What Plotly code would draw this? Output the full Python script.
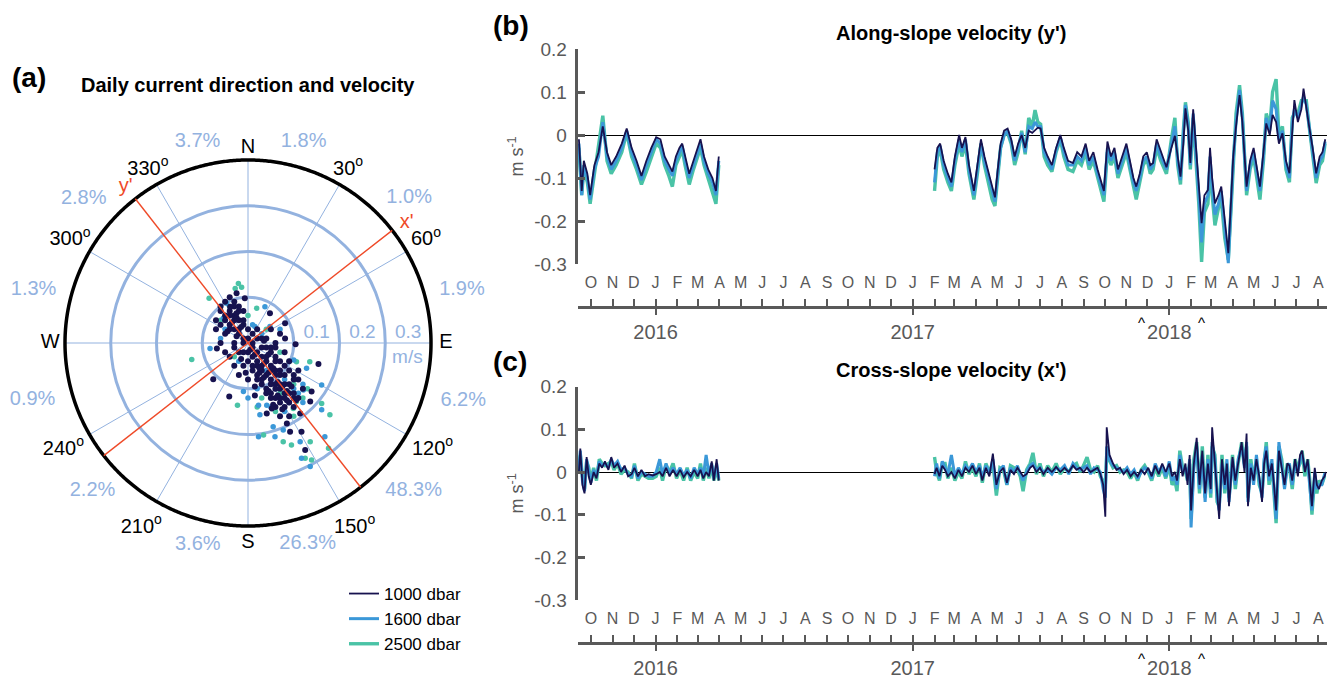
import numpy as np
import pandas as pd
import plotly.graph_objects as go

W, H = 1330, 683
FONT = "Liberation Sans, Arial, Helvetica, sans-serif"
NAVY = "#17124f"
BLUE = "#3b98d8"
TEAL = "#4ac3a6"
RING = "#93b2df"
RED = "#ef4a28"
AXC = "#595959"


def fx(px):
    return px / W


def fy(py):
    return 1 - py / H


# ---------------- (a) daily current vectors (east u, north v), m/s ----------------
u_1000 = [-0.03, -0.02, -0.04, -0.01, -0.03, -0.05, -0.02, 0.0, 0.01, 0.02, -0.01, -0.03, 0.03, 0.02,
          0.01, 0.0, -0.02, -0.04, 0.03, 0.04, 0.02, 0.05, 0.03, 0.06, 0.04, 0.07, 0.05, 0.02, 0.06,
          0.08, 0.04, 0.07, 0.09, 0.05, 0.06, 0.08, 0.07, 0.10, 0.03, 0.01, -0.01, 0.0, 0.05, 0.06,
          0.07, 0.08, 0.09, 0.10, 0.11, 0.06, 0.07, 0.05, -0.04, -0.05, -0.06, -0.02, -0.03, -0.06,
          -0.07, 0.04, -0.01,
          -0.05, -0.04, -0.03, -0.06, -0.02, -0.04, -0.05, -0.03, -0.01, -0.04, -0.02, 0.0, -0.01,
          0.01, 0.02, 0.03, 0.04, 0.05, 0.01, -0.01, -0.03, 0.0, 0.02, 0.04, 0.06, 0.01, 0.03, 0.05,
          0.07, 0.02, 0.06, 0.08, 0.03, 0.05, 0.07, 0.09, 0.04, 0.06, 0.08, 0.10, 0.05, 0.07, 0.09,
          0.06, 0.08, 0.10, 0.07, 0.09, 0.11, 0.12, 0.10, 0.11, 0.09, 0.08, 0.06, -0.07, -0.06,
          -0.05, -0.03, -0.02,
          -0.015, 0.015, 0.035, 0.045, 0.025, 0.055, 0.065, 0.035, 0.075, 0.045, 0.085, 0.055,
          0.065, 0.085, -0.035, -0.025, -0.045, -0.015, 0.005, 0.025, 0.015, -0.005, 0.095, 0.105,
          -0.025, -0.025, 0.035, 0.045, 0.075, 0.015,
          -0.025, -0.007, 0.048, 0.081, 0.104, 0.081, -0.068, -0.039, 0.154, -0.076, -0.041, 0.041,
          0.052, 0.085, 0.114, 0.139, 0.136, 0.092, 0.117, 0.125]
v_1000 = [0.06, 0.05, 0.04, 0.04, 0.03, 0.02, 0.02, 0.03, 0.02, 0.01, 0.01, 0.0, -0.01, -0.02,
          -0.03, -0.02, -0.02, -0.03, -0.03, -0.04, -0.05, -0.05, -0.06, -0.06, -0.07, -0.07, -0.08,
          -0.08, -0.09, -0.09, -0.10, -0.10, -0.11, -0.11, -0.12, -0.12, -0.13, -0.12, -0.09, -0.06,
          -0.05, -0.08, -0.02, -0.03, -0.04, -0.05, -0.06, -0.07, -0.08, 0.0, 0.02, 0.03, 0.07, 0.06,
          0.04, 0.08, 0.09, 0.07, 0.05, 0.01, 0.07,
          0.09, 0.10, 0.08, 0.08, 0.07, 0.06, 0.05, 0.05, 0.05, 0.03, 0.03, 0.01, 0.0,
          0.0, 0.03, 0.01, -0.01, -0.01, -0.01, -0.02, -0.01, -0.04, -0.04, -0.03, -0.04, -0.05,
          -0.05, -0.06, -0.06, -0.07, -0.07, -0.07, -0.08, -0.09, -0.09, -0.09, -0.11, -0.10, -0.11,
          -0.11, -0.12, -0.12, -0.13, -0.14, -0.14, -0.14, -0.16, -0.16, -0.12, -0.10, -0.08, -0.06,
          -0.04, -0.02, -0.01, 0.03, 0.0, -0.02, -0.05, -0.07,
          -0.035, -0.025, -0.045, -0.025, -0.065, -0.055, -0.085, -0.075, -0.095, -0.105, -0.105,
          -0.135, -0.115, -0.125, 0.045, 0.065, 0.025, 0.035, -0.015, -0.055, -0.095, -0.065,
          -0.095, -0.125, 0.015, 0.055, 0.005, -0.065, -0.145, -0.115,
          0.109, 0.098, 0.065, 0.043, -0.003, 0.01, -0.012, 0.079, -0.046, -0.079, -0.117, -0.154,
          -0.143, -0.176, -0.154, -0.106, -0.128, -0.194, -0.194, -0.234]

u_1600 = [-0.03, 0.01, -0.05, 0.03, 0.05, 0.04, 0.08, 0.06, 0.10, 0.09, 0.11, 0.02, -0.02, 0.07,
          0.12, -0.06, 0.0, 0.05, 0.12, 0.08,
          0.037, 0.048, -0.083, -0.047, 0.015, 0.1, 0.128, -0.054, -0.010, 0.023, 0.041, 0.026,
          0.055, 0.077, 0.023, 0.059, 0.121, 0.161, 0.161, 0.114, 0.168, 0.117, 0.136]
v_1600 = [0.05, 0.04, 0.03, 0.02, -0.01, -0.06, -0.08, -0.10, -0.10, -0.13, -0.11, -0.10, -0.04,
          0.03, -0.09, 0.01, -0.12, -0.14, -0.13, -0.15,
          0.079, 0.036, -0.012, 0.087, 0.036, -0.037, -0.055, 0.054, -0.106, -0.136, -0.136,
          -0.157, -0.183, -0.190, -0.205, -0.205, -0.103, -0.092, -0.146, -0.216, -0.205, -0.252,
          -0.27]

u_2500 = [-0.04, 0.0, -0.06, 0.04, 0.07, 0.09, 0.1, 0.07, 0.12, 0.03, -0.03, 0.13, 0.06, 0.1, 0.02,
          -0.021, -0.028, -0.014, -0.085, -0.123, 0.019, 0.106, 0.135, -0.023, 0.034, 0.099, 0.106,
          0.161, 0.179, 0.077, 0.095, 0.136, 0.125, 0.139, 0.176]
v_2500 = [0.08, 0.06, 0.05, 0.03, -0.02, -0.04, -0.09, -0.11, -0.12, -0.12, -0.03, -0.10, -0.15,
          -0.16, -0.14,
          0.130, 0.119, 0.122, 0.098, -0.036, 0.076, -0.041, -0.041, -0.136, -0.201, -0.143, -0.128,
          -0.132, -0.157, -0.216, -0.223, -0.216, -0.252, -0.256, -0.23]

compass_deg = [0, 30, 60, 90, 120, 150, 180, 210, 240, 270, 300, 330]
compass_lbl = ["N", "30<sup>o</sup>", "60<sup>o</sup>", "E", "120<sup>o</sup>", "150<sup>o</sup>",
               "S", "210<sup>o</sup>", "240<sup>o</sup>", "W", "300<sup>o</sup>", "330<sup>o</sup>"]
sector_pct = ["1.8%", "1.0%", "1.9%", "6.2%", "48.3%", "26.3%",
              "3.6%", "2.2%", "0.9%", "1.3%", "2.8%", "3.7%"]
speed_rings = [0.1, 0.2, 0.3]
speed_max = 0.4
xprime_dir = 52
yprime_dir = 322

# label placement around the rose (direction in degrees, distance in m/s units)
pct_lbl_theta = [15.5, 48, 76, 105, 131.7, 163.5, 194, 226.5, 255.2, 284, 311.3, 345.9]
pct_lbl_r = [0.455, 0.474, 0.482, 0.487, 0.485, 0.459, 0.454, 0.4685, 0.487, 0.483, 0.478, 0.452]

# ---------------- (b) along-slope velocity, m/s ----------------
dates_b = [
    "2015-09-14", "2015-09-18", "2015-09-21", "2015-09-26", "2015-09-30", "2015-10-06",
    "2015-10-12", "2015-10-18", "2015-10-24", "2015-10-30", "2015-11-06", "2015-11-14",
    "2015-11-21", "2015-11-28", "2015-12-05", "2015-12-12", "2015-12-19", "2015-12-26",
    "2016-01-02", "2016-01-08", "2016-01-14", "2016-01-20", "2016-01-25", "2016-01-30",
    "2016-02-04", "2016-02-08", "2016-02-12", "2016-02-18", "2016-02-24", "2016-03-01",
    "2016-03-05", "2016-03-10", "2016-03-16", "2016-03-22", "2016-03-27", "2016-03-31",
    "2016-09-01",
    "2017-02-01", "2017-02-05", "2017-02-09", "2017-02-14", "2017-02-20", "2017-02-25",
    "2017-03-02", "2017-03-08", "2017-03-12", "2017-03-17", "2017-03-22", "2017-03-29",
    "2017-04-03", "2017-04-08", "2017-04-13", "2017-04-19", "2017-04-24", "2017-04-28",
    "2017-05-02", "2017-05-06", "2017-05-11", "2017-05-16", "2017-05-21", "2017-05-26",
    "2017-05-31",
    "2017-06-05", "2017-06-10", "2017-06-15", "2017-06-20", "2017-06-24", "2017-06-28",
    "2017-07-02", "2017-07-07", "2017-07-12", "2017-07-18", "2017-07-24", "2017-07-30",
    "2017-08-04", "2017-08-10", "2017-08-17", "2017-08-23", "2017-08-29",
    "2017-09-04", "2017-09-09", "2017-09-15", "2017-09-21", "2017-09-26", "2017-09-30",
    "2017-10-05", "2017-10-10", "2017-10-15", "2017-10-20", "2017-10-26", "2017-11-01",
    "2017-11-06", "2017-11-11", "2017-11-15", "2017-11-20", "2017-11-25", "2017-11-30",
    "2017-12-05", "2017-12-09", "2017-12-14", "2017-12-20", "2017-12-28",
    "2018-01-04", "2018-01-09", "2018-01-13", "2018-01-17", "2018-01-21", "2018-01-24",
    "2018-01-28", "2018-01-31", "2018-02-04", "2018-02-08", "2018-02-12", "2018-02-16",
    "2018-02-20", "2018-02-25", "2018-02-28", "2018-03-03", "2018-03-07", "2018-03-12",
    "2018-03-16", "2018-03-21", "2018-03-26", "2018-03-30",
    "2018-04-02", "2018-04-06", "2018-04-11", "2018-04-15", "2018-04-21", "2018-04-26",
    "2018-05-01", "2018-05-06", "2018-05-10", "2018-05-15", "2018-05-19", "2018-05-24",
    "2018-05-28", "2018-06-02", "2018-06-06", "2018-06-11", "2018-06-16", "2018-06-21",
    "2018-06-25", "2018-06-28", "2018-07-03", "2018-07-08", "2018-07-11", "2018-07-15",
    "2018-07-19", "2018-07-24", "2018-07-29", "2018-08-03", "2018-08-07", "2018-08-11",
]
along_1000 = [
    -0.01, -0.13, -0.06, -0.09, -0.14, -0.07, -0.04, 0.02, -0.04, -0.07, -0.05, -0.02,
    0.015, -0.03, -0.06, -0.095, -0.06, -0.03, -0.005, -0.01, -0.05, -0.07, -0.085, -0.05,
    -0.03, -0.02, -0.05, -0.09, -0.06, -0.03, -0.01, -0.05, -0.08, -0.10, -0.13, -0.05,
    None,
    -0.08, -0.03, -0.02, -0.06, -0.09, -0.11, -0.05, 0.0, -0.03, -0.005, -0.07, -0.13,
    -0.07, -0.01, -0.05, -0.09, -0.12, -0.145, -0.08, -0.02, 0.01, 0.015, -0.01, -0.05, -0.02,
    0.0, -0.03, 0.01, 0.005, 0.01, 0.017, 0.015, -0.03, -0.05, -0.07, -0.03, 0.0, -0.03, -0.06,
    -0.065, -0.04, -0.05,
    -0.02, -0.06, -0.04, -0.08, -0.11, -0.13, -0.015, -0.05, -0.03, -0.08, -0.05, -0.02, -0.06,
    -0.10, -0.12, -0.09, -0.05, -0.04, -0.07, -0.065, -0.01, -0.04, -0.075,
    -0.03, -0.002, -0.05, -0.097, -0.02, 0.062, 0.01, -0.065, 0.06, -0.03, -0.12, -0.205,
    -0.14, -0.128, -0.03, -0.10, -0.159, -0.14, -0.12, -0.2, -0.275, -0.15,
    -0.05, 0.02, 0.093, 0.03, -0.12, -0.06, -0.03, -0.08, -0.12, -0.04, 0.027, 0.0, 0.047,
    0.03, -0.02, 0.004, -0.06, -0.089, 0.02, 0.081, 0.03, 0.06, 0.108, 0.058, 0.02, -0.03,
    -0.089, -0.05, -0.04, -0.01,
]
along_1600 = [
    -0.02, -0.14, -0.07, -0.10, -0.15, -0.08, -0.05, 0.03, -0.05, -0.08, -0.06, -0.03,
    0.01, -0.04, -0.07, -0.105, -0.07, -0.04, -0.01, -0.02, -0.06, -0.08, -0.095, -0.06,
    -0.04, -0.025, -0.06, -0.10, -0.07, -0.04, -0.02, -0.06, -0.09, -0.11, -0.14, -0.06,
    None,
    -0.11, -0.04, -0.025, -0.07, -0.10, -0.12, -0.06, -0.01, -0.04, -0.01, -0.08, -0.14,
    -0.08, -0.02, -0.06, -0.10, -0.13, -0.155, -0.09, -0.03, 0.0, 0.01, -0.015, -0.06, -0.03,
    0.005, -0.04, 0.02, 0.015, 0.03, 0.02, 0.02, -0.04, -0.06, -0.08, -0.035, -0.005, -0.04,
    -0.07, -0.07, -0.05, -0.06,
    -0.03, -0.07, -0.05, -0.09, -0.12, -0.14, -0.03, -0.06, -0.04, -0.09, -0.06, -0.03, -0.07,
    -0.11, -0.13, -0.10, -0.06, -0.05, -0.08, -0.07, -0.02, -0.05, -0.08,
    -0.02, 0.02, -0.06, -0.105, 0.0, 0.07, 0.02, -0.07, 0.05, -0.04, -0.14, -0.25,
    -0.16, -0.14, -0.05, -0.12, -0.185, -0.16, -0.13, -0.22, -0.298, -0.16,
    -0.06, 0.03, 0.105, 0.04, -0.13, -0.07, -0.04, -0.09, -0.13, -0.05, 0.04, 0.01, 0.08,
    0.06, -0.01, 0.01, -0.07, -0.10, 0.03, 0.06, 0.04, 0.07, 0.09, 0.07, 0.02, -0.04,
    -0.10, -0.06, -0.05, -0.015,
]
along_2500 = [
    -0.03, -0.14, -0.08, -0.11, -0.16, -0.09, -0.03, 0.045, -0.06, -0.09, -0.07, -0.04,
    0.005, -0.05, -0.08, -0.115, -0.085, -0.05, -0.02, -0.03, -0.07, -0.095, -0.12, -0.07,
    -0.05, -0.035, -0.07, -0.115, -0.08, -0.05, -0.03, -0.07, -0.10, -0.13, -0.16, -0.07,
    None,
    -0.13, -0.05, -0.035, -0.08, -0.11, -0.13, -0.07, -0.02, -0.05, -0.02, -0.09, -0.15,
    -0.09, -0.02, -0.07, -0.11, -0.15, -0.165, -0.10, -0.03, 0.0, 0.005, -0.02, -0.07, -0.04,
    0.01, -0.045, 0.04, 0.02, 0.058, 0.03, 0.025, -0.05, -0.07, -0.085, -0.04, -0.01, -0.05,
    -0.08, -0.085, -0.06, -0.07,
    -0.04, -0.08, -0.06, -0.10, -0.13, -0.155, -0.04, -0.07, -0.05, -0.10, -0.07, -0.04, -0.08,
    -0.12, -0.15, -0.11, -0.07, -0.055, -0.09, -0.08, -0.03, -0.06, -0.09,
    -0.01, 0.04, -0.07, -0.115, 0.01, 0.076, 0.03, -0.08, 0.04, -0.05, -0.16, -0.295,
    -0.18, -0.16, -0.07, -0.14, -0.21, -0.17, -0.15, -0.24, -0.29, -0.17,
    -0.07, 0.05, 0.116, 0.05, -0.14, -0.08, -0.05, -0.10, -0.15, -0.06, 0.05, 0.02, 0.10,
    0.13, 0.0, 0.02, -0.08, -0.11, 0.04, 0.05, 0.05, 0.08, 0.08, 0.08, 0.02, -0.05,
    -0.112, -0.07, -0.06, -0.02,
]

# ---------------- (c) cross-slope velocity, m/s ----------------
dates_c = [
    "2015-09-14", "2015-09-16", "2015-09-19", "2015-09-22", "2015-09-25", "2015-09-28",
    "2015-10-01", "2015-10-05", "2015-10-09", "2015-10-13",
    "2015-10-17", "2015-10-21", "2015-10-26", "2015-10-30", "2015-11-03", "2015-11-08",
    "2015-11-13", "2015-11-18", "2015-11-23", "2015-11-28",
    "2015-12-02", "2015-12-07", "2015-12-12", "2015-12-17", "2015-12-22", "2015-12-28",
    "2016-01-02", "2016-01-07", "2016-01-11", "2016-01-16",
    "2016-01-21", "2016-01-26", "2016-01-31", "2016-02-05", "2016-02-10", "2016-02-15",
    "2016-02-20", "2016-02-25", "2016-03-01", "2016-03-05",
    "2016-03-09", "2016-03-13", "2016-03-17", "2016-03-21", "2016-03-24", "2016-03-28",
    "2016-03-31",
    "2016-09-01",
    "2017-02-01", "2017-02-04", "2017-02-08", "2017-02-12", "2017-02-16", "2017-02-20",
    "2017-02-25", "2017-03-02", "2017-03-07", "2017-03-12",
    "2017-03-17", "2017-03-22", "2017-03-27", "2017-04-01", "2017-04-06", "2017-04-10",
    "2017-04-15", "2017-04-20", "2017-04-25", "2017-04-30",
    "2017-05-05", "2017-05-10", "2017-05-15", "2017-05-20", "2017-05-25", "2017-05-30",
    "2017-06-03", "2017-06-07", "2017-06-12", "2017-06-17",
    "2017-06-21", "2017-06-26", "2017-07-01", "2017-07-06", "2017-07-12", "2017-07-18",
    "2017-07-24", "2017-07-30", "2017-08-05", "2017-08-11",
    "2017-08-17", "2017-08-22", "2017-08-27", "2017-09-01", "2017-09-06", "2017-09-11",
    "2017-09-16", "2017-09-21", "2017-09-25", "2017-09-29",
    "2017-10-02", "2017-10-04", "2017-10-08", "2017-10-13", "2017-10-18", "2017-10-23",
    "2017-10-28", "2017-11-02", "2017-11-07", "2017-11-12",
    "2017-11-17", "2017-11-22", "2017-11-27", "2017-12-02", "2017-12-07", "2017-12-12",
    "2017-12-17", "2017-12-22", "2017-12-27",
    "2018-01-01", "2018-01-05", "2018-01-09", "2018-01-12", "2018-01-16", "2018-01-20",
    "2018-01-24", "2018-01-27", "2018-01-30", "2018-02-01",
    "2018-02-05", "2018-02-09", "2018-02-13", "2018-02-17", "2018-02-21", "2018-02-25",
    "2018-03-01", "2018-03-03", "2018-03-07", "2018-03-10",
    "2018-03-13", "2018-03-17", "2018-03-21", "2018-03-24", "2018-03-27", "2018-04-01",
    "2018-04-05", "2018-04-09", "2018-04-14", "2018-04-18",
    "2018-04-21", "2018-04-23", "2018-04-27", "2018-05-01", "2018-05-05", "2018-05-09",
    "2018-05-13", "2018-05-16", "2018-05-19", "2018-05-23",
    "2018-05-27", "2018-05-30", "2018-06-02", "2018-06-06", "2018-06-10", "2018-06-14",
    "2018-06-18", "2018-06-21", "2018-06-25", "2018-06-29",
    "2018-07-03", "2018-07-06", "2018-07-09", "2018-07-13", "2018-07-17", "2018-07-20",
    "2018-07-23", "2018-07-27", "2018-07-30", "2018-08-02", "2018-08-06", "2018-08-10",
    "2018-08-12",
]
cross_1000 = [
    0.0, 0.055, -0.03, -0.05, 0.035, -0.01, -0.03, 0.0, -0.015, 0.02,
    0.01, 0.025, 0.005, 0.035, 0.01, 0.02, 0.0, 0.015, -0.01, -0.005,
    0.01, -0.01, 0.005, -0.01, -0.005, -0.008, -0.005, 0.0, -0.01, 0.01,
    -0.01, 0.005, -0.01, 0.005, -0.012, 0.0, -0.01, 0.005, -0.01, 0.005,
    -0.015, 0.0, -0.01, 0.025, -0.02, 0.03, -0.02,
    None,
    -0.005, 0.01, -0.01, 0.015, 0.005, -0.01, 0.0, -0.015, 0.005, -0.01,
    0.01, 0.0, 0.015, -0.005, 0.01, -0.02, 0.01, -0.01, 0.043, -0.03,
    0.0, 0.01, -0.025, 0.005, -0.005, 0.01, 0.0, -0.01, -0.005, 0.01,
    0.015, 0.0, 0.01, -0.005, 0.01, 0.0, 0.012, 0.0, 0.01, 0.0,
    0.015, 0.005, 0.01, 0.0, 0.01, 0.0, 0.005, 0.01, -0.005, -0.03,
    -0.105, 0.105, 0.04, 0.02, 0.005, 0.01, -0.005, 0.005, -0.01, 0.0,
    -0.01, 0.005, -0.005, 0.01, -0.01, 0.015, -0.005, 0.02, 0.0,
    0.02, -0.01, 0.0, -0.02, 0.03, -0.01, 0.02, -0.03, 0.04, -0.09,
    0.02, 0.08, -0.03, 0.05, -0.05, 0.02, -0.04, 0.105, 0.02, -0.05,
    -0.11, 0.03, -0.03, 0.02, -0.08, 0.035, -0.02, 0.02, 0.07, 0.0,
    0.09, -0.08, 0.01, -0.02, 0.03, -0.01, -0.07, 0.02, 0.05, -0.01,
    0.02, -0.03, -0.09, 0.05, 0.01, -0.03, 0.02, 0.015, -0.02, 0.03,
    -0.01, 0.04, 0.05, 0.0, 0.03, -0.02, -0.08, 0.01, -0.03, -0.04, -0.02, -0.01,
    0.0,
]
cross_1600 = [
    0.01, 0.05, -0.02, -0.045, 0.03, 0.0, -0.025, 0.005, -0.01, 0.025,
    0.015, 0.02, 0.01, 0.03, 0.015, 0.025, 0.005, 0.01, -0.005, -0.01,
    0.015, -0.015, 0.0, -0.005, -0.01, -0.01, 0.0, 0.03, -0.005, 0.02,
    -0.005, 0.01, -0.005, 0.01, -0.008, 0.005, -0.015, 0.01, -0.005, 0.01,
    -0.01, 0.04, -0.005, 0.02, -0.015, 0.02, -0.015,
    None,
    -0.01, 0.02, -0.015, 0.025, 0.01, -0.005, 0.04, -0.01, 0.01, -0.005,
    0.015, 0.005, 0.02, 0.0, 0.015, -0.015, 0.015, -0.005, 0.03, -0.04,
    0.005, 0.015, -0.03, 0.01, 0.0, 0.015, -0.005, -0.02, 0.0, 0.015,
    0.02, 0.005, 0.01, 0.0, 0.005, -0.005, 0.01, 0.005, 0.015, -0.005,
    0.02, 0.01, 0.005, 0.01, 0.015, -0.005, 0.01, 0.005, 0.0, -0.04,
    -0.06, 0.06, 0.03, 0.015, 0.01, 0.005, 0.0, 0.01, -0.005, 0.005,
    -0.015, 0.0, 0.01, 0.005, -0.015, 0.02, 0.0, 0.015, -0.01,
    0.025, -0.02, -0.01, -0.03, 0.04, 0.0, 0.01, -0.02, 0.03, -0.13,
    0.01, 0.06, -0.04, 0.04, -0.07, 0.03, -0.05, 0.07, 0.03, -0.06,
    -0.09, 0.02, -0.04, 0.03, -0.07, 0.03, -0.03, 0.03, 0.06, 0.01,
    0.07, -0.07, 0.02, -0.03, 0.04, -0.02, -0.06, 0.03, 0.06, -0.02,
    0.03, -0.04, -0.11, 0.07, 0.02, -0.04, 0.01, 0.02, -0.03, 0.02,
    0.0, 0.03, 0.04, 0.01, 0.02, -0.03, -0.09, 0.0, -0.04, -0.03, -0.03, -0.005,
    -0.005,
]
cross_2500 = [
    0.0, 0.04, -0.01, -0.04, 0.025, 0.01, -0.02, 0.01, -0.02, 0.03,
    0.02, 0.015, 0.02, 0.025, 0.005, 0.02, -0.005, 0.005, 0.0, -0.015,
    0.02, -0.02, -0.005, -0.01, -0.015, -0.015, -0.01, 0.01, -0.02, 0.015,
    0.0, 0.02, -0.015, 0.005, -0.02, 0.01, -0.02, 0.0, -0.015, 0.02,
    -0.02, 0.01, -0.015, 0.015, -0.02, 0.01, -0.02,
    None,
    0.035, 0.0, -0.02, 0.02, 0.02, -0.015, 0.01, -0.02, 0.0, -0.015,
    0.025, -0.005, 0.01, -0.01, 0.02, -0.025, 0.02, 0.0, 0.02, -0.055,
    0.01, 0.005, -0.03, 0.015, 0.01, 0.005, -0.01, -0.045, 0.005, 0.02,
    0.045, -0.005, 0.02, -0.01, 0.015, 0.0, 0.02, -0.005, 0.01, 0.0,
    0.015, 0.02, 0.0, 0.015, 0.035, 0.005, 0.0, 0.015, -0.01, -0.02,
    -0.03, 0.04, 0.025, 0.01, 0.015, 0.0, 0.005, 0.0, -0.015, 0.0,
    -0.02, 0.005, 0.015, 0.0, -0.02, 0.01, -0.01, 0.01, -0.015,
    0.015, -0.03, -0.02, -0.045, 0.05, 0.01, 0.0, -0.02, 0.02, -0.11,
    0.03, 0.07, -0.05, 0.06, -0.06, 0.04, -0.06, 0.06, 0.04, -0.07,
    -0.08, 0.04, -0.05, 0.02, -0.06, 0.04, -0.04, 0.02, 0.07, 0.02,
    0.06, -0.06, 0.03, -0.02, 0.03, -0.03, -0.05, 0.02, 0.07, -0.03,
    0.02, -0.05, -0.12, 0.06, 0.03, -0.03, 0.02, 0.01, -0.04, 0.03,
    0.01, 0.02, 0.05, -0.01, 0.03, -0.02, -0.10, -0.01, -0.05, -0.02, -0.03, -0.01,
    -0.01,
]

event_dates = ["2017-11-22", "2018-02-16"]

for arr in (along_1000, along_1600, along_2500):
    assert len(arr) == len(dates_b)
for arr in (cross_1000, cross_1600, cross_2500):
    assert len(arr) == len(dates_c)
assert len(u_1000) == len(v_1000) and len(u_1600) == len(v_1600) and len(u_2500) == len(v_2500)

# ---------------- figure ----------------
fig = go.Figure()
POL = dict(subplot="polar", showlegend=False, hoverinfo="skip", cliponaxis=False)

# compass spokes and outer rim
spoke_r, spoke_t = [], []
for d in compass_deg:
    spoke_r += [0, speed_max, None]
    spoke_t += [d, d, None]
fig.add_trace(go.Scatterpolar(r=spoke_r, theta=spoke_t, mode="lines",
                              line=dict(color=RING, width=1), **POL))
rim_theta = np.linspace(0, 360, 721)
fig.add_trace(go.Scatterpolar(r=np.full(rim_theta.size, speed_max), theta=rim_theta,
                              mode="lines", line=dict(color="black", width=3.5), **POL))

# current vectors as points in speed/direction space
for u, v, col, sz in [(u_2500, v_2500, TEAL, 5.5), (u_1600, v_1600, BLUE, 5.5),
                      (u_1000, v_1000, NAVY, 6)]:
    u = np.asarray(u)
    v = np.asarray(v)
    spd = np.hypot(u, v)
    dirn = np.degrees(np.arctan2(u, v)) % 360
    fig.add_trace(go.Scatterpolar(r=spd, theta=dirn, mode="markers",
                                  marker=dict(size=sz, color=col, line=dict(width=0)), **POL))

# rotated x'/y' frame
for ang in (xprime_dir, yprime_dir):
    fig.add_trace(go.Scatterpolar(r=[speed_max, 0, speed_max], theta=[ang, ang, ang + 180],
                                  mode="lines", line=dict(color=RED, width=1.4), **POL))
fig.add_trace(go.Scatterpolar(r=[speed_max * 1.085] * 2, theta=[xprime_dir + 1, yprime_dir],
                              mode="text", text=["x'", "y'"], textposition="middle center",
                              textfont=dict(color=RED, size=20, family=FONT), **POL))

# compass labels (numeric ones carry a raised degree mark, so shift them by bearing)
compass_r = []
for d, lbl in zip(compass_deg, compass_lbl):
    s, c = abs(np.sin(np.radians(d))), np.cos(np.radians(d))
    if len(lbl) == 1:
        compass_r.append(0.4325 - 0.0055 * c)
    else:
        compass_r.append(0.4445 + 0.015 * s - 0.0165 * c)
fig.add_trace(go.Scatterpolar(r=compass_r, theta=compass_deg, mode="text", text=compass_lbl,
                              textposition="middle center",
                              textfont=dict(color="black", size=20, family=FONT), **POL))
# sector percentages
fig.add_trace(go.Scatterpolar(r=pct_lbl_r, theta=pct_lbl_theta, mode="text", text=sector_pct,
                              textposition="middle center",
                              textfont=dict(color=RING, size=20, family=FONT), **POL))

# speed ring labels
ring_lbl_r = np.asarray(speed_rings) + 0.05
fig.add_trace(go.Scatterpolar(r=ring_lbl_r, theta=[90] * len(speed_rings), mode="text",
                              text=[f"{s:.1f}" for s in speed_rings], textposition="top center",
                              textfont=dict(color=RING, size=19, family=FONT), **POL))
fig.add_trace(go.Scatterpolar(r=[ring_lbl_r[-1]], theta=[95.5], mode="text", text=["m/s"],
                              textposition="middle center",
                              textfont=dict(color=RING, size=19, family=FONT), **POL))

# (b), (c) time series
series = [
    ("2500 dbar", TEAL, 3.4, along_2500, cross_2500, 3),
    ("1600 dbar", BLUE, 3.0, along_1600, cross_1600, 2),
    ("1000 dbar", NAVY, 1.8, along_1000, cross_1000, 1),
]
for name, col, lw, yb, yc, rank in series:
    fig.add_trace(go.Scatter(x=dates_b, y=yb, mode="lines", name=name,
                             line=dict(color=col, width=lw), legendrank=rank,
                             xaxis="x", yaxis="y", hoverinfo="skip"))
    fig.add_trace(go.Scatter(x=dates_c, y=yc, mode="lines", name=name,
                             line=dict(color=col, width=lw), showlegend=False,
                             xaxis="x2", yaxis="y2", hoverinfo="skip"))

# anchor traces for the calendar axes
for xa, ya in (("x3", "y"), ("x4", "y"), ("x5", "y2"), ("x6", "y2")):
    fig.add_trace(go.Scatter(x=[None], y=[None], xaxis=xa, yaxis=ya,
                             showlegend=False, hoverinfo="skip"))

x_range = ["2015-09-12", "2018-08-13"]
x_dom = [fx(577.5), fx(1326.7)]
month_ticks = pd.date_range("2015-10-01", "2018-08-01", freq="MS")
month_text = [d.strftime("%b")[0] for d in month_ticks]
year_ticks = ["2016-01-01", "2017-01-01", "2018-01-01"]
year_text = ["2016", "2017", "2018"]

yticks = [-0.3, -0.2, -0.1, 0, 0.1, 0.2]
ytext = ["-0.3", "-0.2", "-0.1", "0", "0.1", "0.2"]


def data_x(anchor):
    return dict(domain=x_dom, range=x_range, type="date", anchor=anchor, visible=False,
                showgrid=False, zeroline=False)


def data_y(dom, anchor):
    return dict(domain=dom, range=[-0.3, 0.2], anchor=anchor, tickmode="array",
                tickvals=yticks, ticktext=ytext, ticks="inside", ticklen=8, tickwidth=2.5,
                tickcolor=AXC, showline=True, linecolor=AXC, linewidth=2.5,
                tickfont=dict(size=19, color=AXC, family=FONT), ticklabelstandoff=4,
                showgrid=False, zeroline=True, zerolinecolor="black", zerolinewidth=1.2,
                title=dict(text="m s<sup>-1</sup>", font=dict(size=18, color=AXC, family=FONT),
                           standoff=6),
                automargin=False)


def month_axis(over, pos):
    return dict(overlaying=over, anchor="free", position=pos, side="top", type="date",
                range=x_range, domain=x_dom, tickmode="array", tickvals=month_ticks,
                ticktext=month_text, ticks="outside", ticklen=7, tickwidth=2, tickcolor=AXC,
                showline=True, linecolor=AXC, linewidth=3,
                tickfont=dict(size=16, color=AXC, family=FONT), ticklabelstandoff=5,
                showgrid=False, zeroline=False)


def year_axis(over, pos):
    return dict(overlaying=over, anchor="free", position=pos, side="bottom", type="date",
                range=x_range, domain=x_dom, tickmode="array", tickvals=year_ticks,
                ticktext=year_text, ticks="outside", ticklen=7, tickwidth=2, tickcolor=AXC,
                showline=False, tickfont=dict(size=20, color=AXC, family=FONT),
                ticklabelstandoff=0, showgrid=False, zeroline=False)


pos_b = fy(307)
pos_c = fy(643)

annotations = [
    dict(text="<b>(a)</b>", x=fx(10), y=fy(78), xanchor="left", yanchor="middle",
         font=dict(size=28, color="black")),
    dict(text="<b>Daily current direction and velocity</b>", x=fx(79), y=fy(85),
         xanchor="left", yanchor="middle", font=dict(size=20, color="black")),
    dict(text="<b>(b)</b>", x=fx(491), y=fy(25), xanchor="left", yanchor="middle",
         font=dict(size=28, color="black")),
    dict(text="<b>Along-slope velocity (y')</b>", x=fx(951), y=fy(33), xanchor="center",
         yanchor="middle", font=dict(size=20, color="black")),
    dict(text="<b>(c)</b>", x=fx(491), y=fy(361), xanchor="left", yanchor="middle",
         font=dict(size=28, color="black")),
    dict(text="<b>Cross-slope velocity (x')</b>", x=fx(951), y=fy(370), xanchor="center",
         yanchor="middle", font=dict(size=20, color="black")),
]
for xr, pos in (("x", pos_b), ("x2", pos_c)):
    for d in event_dates:
        annotations.append(dict(text="^", x=d, xref=xr, y=pos - 5 / H, yref="paper",
                                xanchor="center", yanchor="top", showarrow=False,
                                font=dict(size=15, color="black")))
for a in annotations:
    a.setdefault("xref", "paper")
    a.setdefault("yref", "paper")
    a.setdefault("showarrow", False)
    a["font"].setdefault("family", FONT)

# rose centre and radius (px); the polar range extends past the rim to hold the labels
CX, CY, RIM_PX = 248, 343, 183
r_outer = 0.54
R_px = RIM_PX * r_outer / speed_max
polar_dom = dict(x=[fx(CX - R_px), fx(CX + R_px)], y=[fy(CY + R_px), fy(CY - R_px)])

fig.update_layout(
    width=W, height=H, margin=dict(l=0, r=0, t=0, b=0),
    paper_bgcolor="white", plot_bgcolor="rgba(0,0,0,0)",
    font=dict(family=FONT, color="black"),
    hovermode=False,
    xaxis=data_x("y"),
    yaxis=data_y([fy(264), fy(49)], "x"),
    xaxis2=data_x("y2"),
    yaxis2=data_y([fy(600), fy(386.7)], "x2"),
    xaxis3=month_axis("x", pos_b),
    xaxis4=year_axis("x", pos_b),
    xaxis5=month_axis("x2", pos_c),
    xaxis6=year_axis("x2", pos_c),
    polar=dict(
        domain=polar_dom, bgcolor="rgba(0,0,0,0)",
        angularaxis=dict(rotation=90, direction="clockwise", showticklabels=False, ticks="",
                         showgrid=False, showline=False),
        radialaxis=dict(range=[0, r_outer], tickmode="array", tickvals=speed_rings,
                        showticklabels=False, ticks="", showline=False,
                        gridcolor=RING, gridwidth=2.5, layer="below traces"),
    ),
    legend=dict(x=fx(344), y=fy(576), xanchor="left", yanchor="top",
                font=dict(size=17, color="black", family=FONT),
                bgcolor="rgba(0,0,0,0)", tracegroupgap=0),
    annotations=annotations,
)

fig.write_html("out.html")
